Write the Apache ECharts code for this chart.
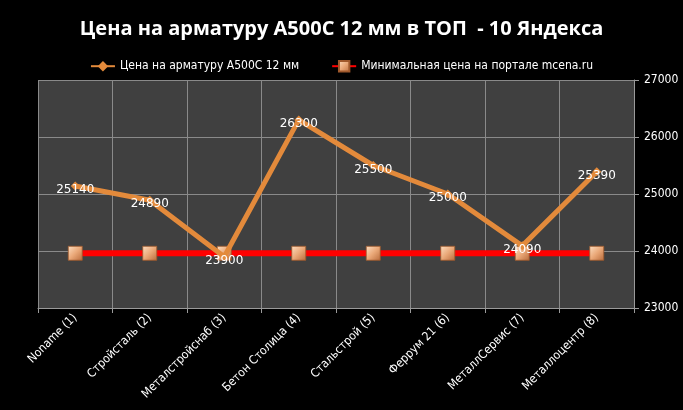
<!DOCTYPE html>
<html>
<head>
<meta charset="utf-8">
<script src="https://cdn.jsdelivr.net/npm/echarts@6/dist/echarts.min.js"></script>
<style>
    html, body { margin: 0; padding: 0; background: #000; }
    #grafico { width: 683px; height: 410px; }
</style>
</head>
<body>
<div id="grafico"></div>
<script>
const categorias = ['Noname (1)', 'Стройсталь (2)', 'Металстройснаб (3)', 'Бетон Столица (4)',
    'Стальстрой (5)', 'Феррум 21 (6)', 'МеталлСервис (7)', 'Металлоцентр (8)']
const precos = [25140, 24890, 23900, 26300, 25500, 25000, 24090, 25390]
const precoMinimo = [23960, 23960, 23960, 23960, 23960, 23960, 23960, 23960]
const ticksY = [23000, 24000, 25000, 26000, 27000]

const nomeSerie1 = 'Цена на арматуру А500С 12 мм'
const nomeSerie2 = 'Минимальная цена на портале mcena.ru'

const dom = document.getElementById('grafico')
const myChart = echarts.init(dom, null, { renderer: 'canvas' })

const quadrado = {
    type: 'linear', x: 0, y: 0, x2: 1, y2: 1,
    colorStops: [
        { offset: 0, color: '#fde0c4' },
        { offset: 0.5, color: '#eaa878' },
        { offset: 1, color: '#b86a3a' }
    ]
}

const fonte = 'DejaVu Sans Condensed, sans-serif'

const option = {
    backgroundColor: '#000',
    animation: false,
    title: {
        text: 'Цена на арматуру А500С 12 мм в ТОП  - 10 Яндекса',
        left: 'center',
        top: 14,
        textStyle: {
            color: '#fff',
            fontFamily: 'Liberation Sans Narrow, Open Sans, sans-serif',
            fontWeight: 'bold',
            fontSize: 20
        }
    },
    legend: {
        top: 55,
        left: 'center',
        itemGap: 32,
        itemWidth: 24,
        itemHeight: 13,
        textStyle: { color: '#fff', fontSize: 12, fontFamily: fonte },
        data: [nomeSerie1, nomeSerie2]
    },
    grid: { left: 38, right: 49, top: 80, bottom: 102 },
    xAxis: {
        type: 'category',
        data: categorias,
        boundaryGap: true,
        axisLine: { lineStyle: { color: '#9a9a9a' } },
        axisTick: { show: true, length: 5, lineStyle: { color: '#9a9a9a' } },
        splitLine: { show: true, lineStyle: { color: '#8a8a8a', width: 1 } },
        axisLabel: {
            color: '#fff',
            rotate: 45,
            interval: 0,
            fontSize: 12,
            fontFamily: fonte,
            margin: 8
        }
    },
    yAxis: {
        type: 'value',
        position: 'right',
        min: ticksY[0],
        max: ticksY[ticksY.length - 1],
        interval: 1000,
        axisLine: { show: true, lineStyle: { color: '#9a9a9a' } },
        axisTick: { show: true, length: 5, lineStyle: { color: '#9a9a9a' } },
        splitLine: { show: true, lineStyle: { color: '#8a8a8a', width: 1 } },
        splitArea: { show: true, areaStyle: { color: ['#404040', '#404040'] } },
        axisLabel: {
            color: '#fff',
            fontSize: 12,
            fontFamily: fonte,
            margin: 10,
            formatter: (v) => String(v)
        }
    },
    series: [{
        name: nomeSerie2,
        type: 'line',
        data: precoMinimo,
        z: 2,
        symbol: 'rect',
        symbolSize: 14,
        lineStyle: { color: '#ff0000', width: 6 },
        itemStyle: { color: quadrado, borderColor: '#a0592c', borderWidth: 0.8 }
    }, {
        name: nomeSerie1,
        type: 'line',
        data: precos,
        z: 3,
        symbol: 'diamond',
        symbolSize: 9,
        lineStyle: { color: '#e38a3b', width: 5 },
        itemStyle: { color: '#e38a3b' },
        label: {
            show: true,
            position: 'inside',
            offset: [0, 4],
            color: '#fff',
            fontSize: 12,
            fontFamily: 'DejaVu Sans, sans-serif'
        }
    }]
}

if (option && typeof option === 'object') {
    myChart.setOption(option)
}
</script>
</body>
</html>
